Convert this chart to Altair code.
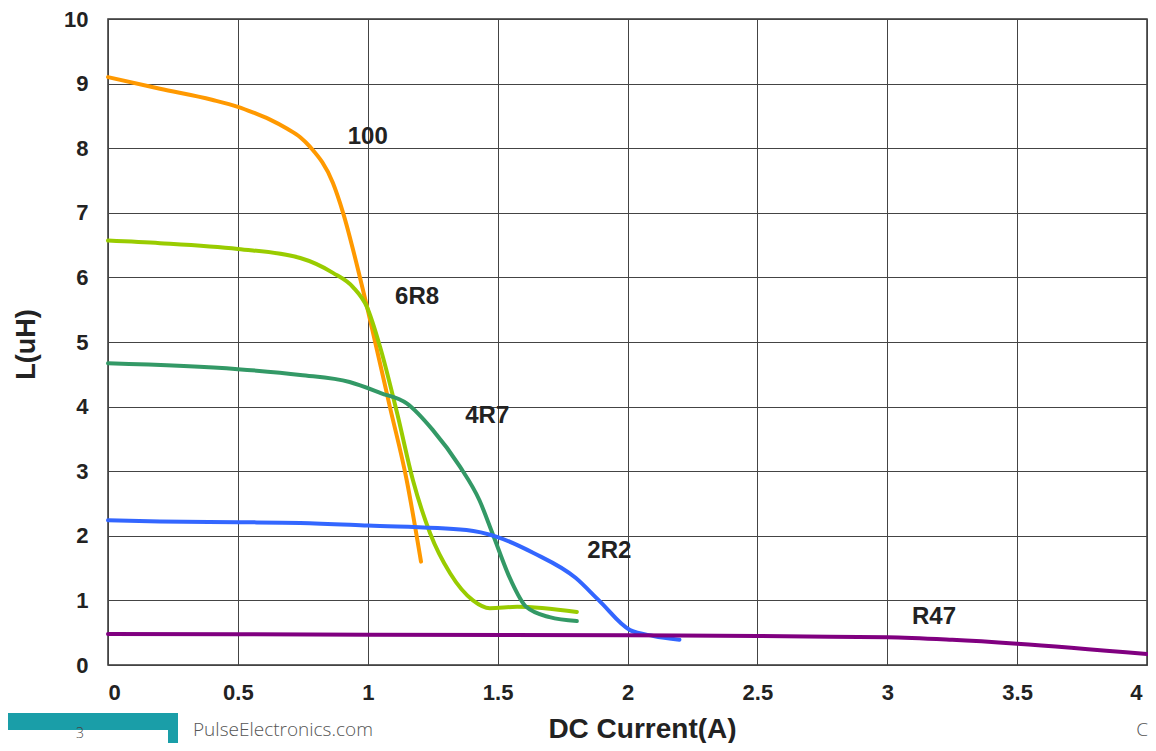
import altair as alt
import pandas as pd

# ---- data ----
series_names = ["100", "6R8", "4R7", "2R2", "R47"]
series_colors = ["#FF9900", "#99CC00", "#339966", "#3366FF", "#800080"]

x_100 = [0, 0.2, 0.4, 0.5, 0.56, 0.62, 0.69, 0.74, 0.778, 0.866, 0.905, 0.97, 1.0, 1.085, 1.15, 1.205]
y_100 = [9.1, 8.92, 8.75, 8.64, 8.55, 8.45, 8.3, 8.17, 8.02, 7.46, 7.0, 6.0, 5.5, 4.0, 2.86, 1.6]

x_6r8 = [0, 0.2, 0.5, 0.74, 0.866, 0.943, 0.997, 1.047, 1.113, 1.174, 1.24, 1.317, 1.405, 1.47, 1.575, 1.805]
y_6r8 = [6.57, 6.53, 6.44, 6.30, 6.07, 5.85, 5.54, 4.93, 3.9, 2.86, 2.04, 1.42, 1.0, 0.88, 0.9, 0.82]

x_4r7 = [0, 0.5, 0.74, 0.93, 1.05, 1.15, 1.25, 1.355, 1.43, 1.48, 1.55, 1.61, 1.70, 1.805]
y_4r7 = [4.67, 4.58, 4.49, 4.38, 4.21, 4.05, 3.64, 3.07, 2.55, 2.04, 1.32, 0.9, 0.74, 0.68]

x_2r2 = [0, 0.2, 0.5, 0.74, 1.0, 1.38, 1.5, 1.64, 1.8, 1.89, 2.01, 2.1, 2.2]
y_2r2 = [2.24, 2.22, 2.21, 2.2, 2.16, 2.09, 1.98, 1.73, 1.35, 1.0, 0.54, 0.45, 0.39]

x_r47 = [0, 1, 2, 2.5, 2.69, 3, 3.25, 3.5, 4]
y_r47 = [0.48, 0.47, 0.46, 0.45, 0.44, 0.43, 0.39, 0.33, 0.17]

label_x = [1.0, 1.19, 1.46, 1.93, 3.18]
label_y = [8.17, 5.7, 3.85, 1.76, 0.74]

x_ticks = [0, 0.5, 1, 1.5, 2, 2.5, 3, 3.5, 4]
y_ticks = list(range(0, 11))

# ---- tables ----
all_x = [x_100, x_6r8, x_4r7, x_2r2, x_r47]
all_y = [y_100, y_6r8, y_4r7, y_2r2, y_r47]
rows = []
for order, (name, xs, ys) in enumerate(zip(series_names, all_x, all_y)):
    for x, y in zip(xs, ys):
        rows.append({"part": name, "order": order, "current": x, "L": y})
df = pd.DataFrame(rows)

df_labels = pd.DataFrame({"part": series_names, "current": label_x, "L": label_y})

FONT = "Liberation Sans"

x_enc = alt.X(
    "current:Q",
    scale=alt.Scale(domain=[0, 4], nice=False),
    axis=alt.Axis(
        values=x_ticks, format="~g", title="DC Current(A)",
        labelFont=FONT, labelFontSize=22, labelFontWeight="bold", labelColor="#222",
        labelPadding=17, tickSize=0, domain=False,
        labelOffset={"condition": {"test": "datum.value == 4", "value": -5}, "value": 0},
        grid=True, gridColor="#444", gridWidth=1, gridOpacity=1,
        titleFont=FONT, titleFontSize=28, titleFontWeight="bold", titleColor="#222",
        titleX=534, titleY=72, titleBaseline="alphabetic", titleAlign="center",
    ),
)
y_enc = alt.Y(
    "L:Q",
    scale=alt.Scale(domain=[0, 10], nice=False),
    axis=alt.Axis(
        values=y_ticks, format="d", title="L(uH)",
        labelFont=FONT, labelFontSize=22, labelFontWeight="bold", labelColor="#222",
        labelPadding=20, tickSize=0, domain=False,
        grid=True, gridColor="#444", gridWidth=1, gridOpacity=1,
        titleFont=FONT, titleFontSize=27, titleFontWeight="bold", titleColor="#222",
        titleX=-82, titleY=325, titleAngle=270, titleAlign="center", titleBaseline="middle",
    ),
)

color_scale = alt.Scale(domain=series_names, range=series_colors)

lines = alt.Chart(df).mark_line(strokeWidth=4, interpolate="monotone", strokeCap="round").encode(
    x=x_enc,
    y=y_enc,
    color=alt.Color("part:N", scale=color_scale, legend=None),
    order=alt.Order("current:Q"),
)

labels = alt.Chart(df_labels).mark_text(
    font=FONT, fontSize=24, fontWeight="bold", color="#222", align="center", baseline="middle"
).encode(
    x="current:Q",
    y="L:Q",
    text="part:N",
)

# footer of the page that the chart was cut from
footer_df = pd.DataFrame({"page": ["3"], "site": ["PulseElectronics.com"], "edge": ["C"]})
teal = alt.Chart(footer_df).mark_rect(color="#1A9EA8").encode(
    x=alt.value(-110), x2=alt.value(70), y=alt.value(694), y2=alt.value(740)
)
white = alt.Chart(footer_df).mark_rect(color="#FFFFFF").encode(
    x=alt.value(-104), x2=alt.value(60), y=alt.value(711), y2=alt.value(740)
)
page_no = alt.Chart(footer_df).mark_text(
    font="Open Sans", fontSize=14, fontWeight=300, color="#444", align="center", baseline="alphabetic"
).encode(x=alt.value(-28), y=alt.value(719), text="page:N")
site = alt.Chart(footer_df).mark_text(
    font="Open Sans", fontSize=19, fontWeight=300, color="#555", align="left", baseline="alphabetic"
).encode(x=alt.value(85), y=alt.value(717), text="site:N")
edge = alt.Chart(footer_df).mark_text(
    font="Open Sans", fontSize=19, fontWeight=300, color="#555", align="right", baseline="alphabetic"
).encode(x=alt.value(1040), y=alt.value(717), text="edge:N")

chart = alt.layer(lines, labels, teal, white, page_no, site, edge).properties(
    width=1039,
    height=646,
    autosize=alt.AutoSizeParams(type="none"),
    padding={"left": 100, "top": 11, "right": 1, "bottom": 78},
).configure_view(stroke="#333", strokeWidth=1.5)

chart.save("out.html", embed_options={"renderer": "svg", "actions": False})
